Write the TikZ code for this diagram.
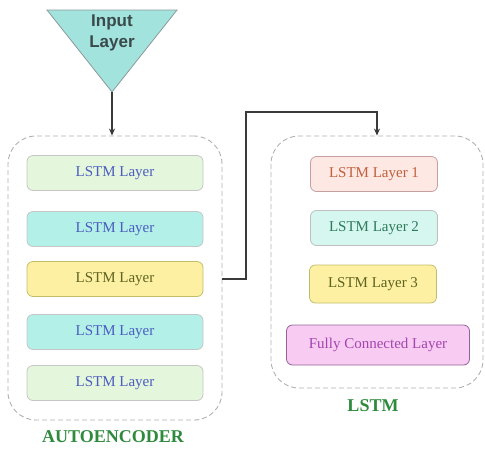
\documentclass[tikz,border=0pt]{standalone}
\usepackage{fontspec}
\setmainfont{Liberation Serif}
\newfontfamily\inpfont{Liberation Sans}
\usepackage{xcolor}
\usetikzlibrary{arrows.meta}

\definecolor{inpfill}{HTML}{A3E3DD}
\definecolor{inpedge}{HTML}{8A9A9A}
\definecolor{inptext}{HTML}{3A4A4A}
\definecolor{grpedge}{HTML}{B0B0B0}
\definecolor{paleg}{HTML}{E4F6DC}
\definecolor{cyanf}{HTML}{B2F0E8}
\definecolor{yellf}{HTML}{FDF0A2}
\definecolor{salmf}{HTML}{FDE8E3}
\definecolor{mintf}{HTML}{D6F7F0}
\definecolor{pinkf}{HTML}{F8CCF2}
\definecolor{bluet}{HTML}{4C5CC0}
\definecolor{olivet}{HTML}{5E6420}
\definecolor{redt}{HTML}{C0603C}
\definecolor{tealt}{HTML}{2E7A5A}
\definecolor{purpt}{HTML}{A444B0}
\definecolor{labg}{HTML}{2E8A3C}
\definecolor{connc}{HTML}{3A3A3A}

\begin{document}
\begin{tikzpicture}[x=1pt,y=-1pt,
    group/.style={draw=grpedge, line width=0.9pt, dash pattern=on 5pt off 3pt,
      rounded corners=28pt},
    layer/.style={draw=#1, line width=0.8pt, rounded corners=6pt,
      minimum width=176pt, minimum height=35pt,
      font=\fontsize{15}{18}\selectfont},
    grplabel/.style={text=labg, font=\bfseries\fontsize{18}{21}\selectfont},
    conn/.style={draw=connc, line width=1.4pt, -{Stealth[length=7pt,width=6pt]}}]
  \useasboundingbox (0,0) rectangle (485,448);

  % Input layer
  \filldraw[draw=inpedge, fill=inpfill, line width=0.8pt]
    (47,10) -- (177,10) -- (112,92) coordinate (apex) -- cycle;
  \node[font=\inpfont\bfseries\fontsize{17}{21}\selectfont, text=inptext,
    align=center] (inp) at (112,33) {Input\\Layer};

  % Autoencoder group
  \node[group, minimum width=214pt, minimum height=284pt] (autoenc) at (115,278) {};
  \node[layer=gray!45, fill=paleg, text=bluet] (enc1) at (115,173) {LSTM Layer};
  \node[layer=gray!45, fill=cyanf, text=bluet] (enc2) at (115,229) {LSTM Layer};
  \node[layer=yellow!45!gray, fill=yellf, text=olivet] (enc3) at (115,279) {LSTM Layer};
  \node[layer=gray!45, fill=cyanf, text=bluet] (enc4) at (115,332) {LSTM Layer};
  \node[layer=gray!45, fill=paleg, text=bluet] (enc5) at (115,383) {LSTM Layer};
  \node[grplabel] (enclab) at (113,437) {AUTOENCODER};

  % LSTM group
  \node[group, minimum width=212pt, minimum height=252pt] (lstmgrp) at (377,262) {};
  \node[layer=red!25!gray!60, fill=salmf, text=redt, minimum width=127pt] (lstm1) at (374,174) {LSTM Layer 1};
  \node[layer=gray!50, fill=mintf, text=tealt, minimum width=127pt] (lstm2) at (374,228) {LSTM Layer 2};
  \node[layer=yellow!45!gray, fill=yellf, text=olivet, minimum width=127pt,
    minimum height=38pt] (lstm3) at (373,284) {LSTM Layer 3};
  \node[layer=purpt!50!gray, fill=pinkf, text=purpt, minimum width=183pt,
    minimum height=40pt] (fcl) at (378,345) {Fully Connected Layer};
  \node[grplabel] (lstmlab) at (373,406) {LSTM};

  % Connectors
  \coordinate (bend) at (246,112);
  \draw[conn] (apex) -- (apex |- autoenc.north);
  \draw[conn] (enc3 -| autoenc.east) -- (bend |- enc3) -- (bend) -| (lstmgrp.north);
\end{tikzpicture}
\end{document}
